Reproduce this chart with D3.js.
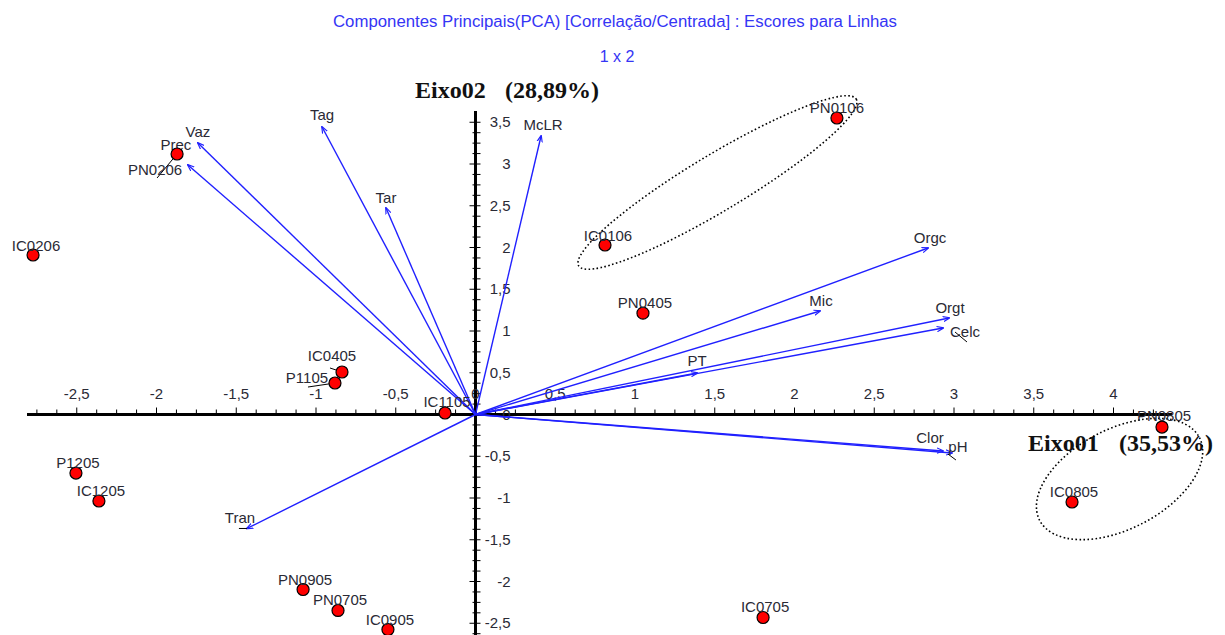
<!DOCTYPE html>
<html>
<head>
<meta charset="utf-8">
<script src="https://cdn.jsdelivr.net/npm/d3@7"></script>
<style>
  body { margin: 0; background: #fff; }
  text { font-family: Arial, "Liberation Sans", sans-serif; }
</style>
</head>
<body>
<div id="pca"></div>
<script>
// scores for rows (red points)
var pointNames = ["PN0106", "IC0106", "PN0405", "IC0206", "PN0206", "IC0405", "P1105", "IC1105",
    "P1205", "IC1205", "PN0905", "PN0705", "IC0905", "IC0705", "PN0805", "IC0805"];
var pointX = [2.266, 0.812, 1.050, -2.774, -1.871, -0.837, -0.881, -0.191,
    -2.505, -2.361, -1.081, -0.862, -0.549, 1.803, 4.304, 3.740];
var pointY = [3.551, 2.030, 1.214, 1.910, 3.120, 0.509, 0.377, 0.018,
    -0.701, -1.036, -2.096, -2.347, -2.575, -2.431, -0.150, -1.048];

// variables (blue vectors)
var varNames = ["Vaz", "Prec", "Tag", "Tar", "McLR", "Orgc", "Mic", "Orgt", "Celc", "PT", "Clor", "pH", "Tran"];
var varX = [-1.740, -1.803, -0.962, -0.561, 0.411, 2.837, 2.160, 2.969, 2.931, 1.389, 2.931, 2.987, -1.433];
var varY = [3.251, 2.988, 3.443, 2.473, 3.335, 1.994, 1.240, 1.156, 1.036, 0.497, -0.437, -0.461, -1.365];

// group ellipses: major axis end points (data units) and minor/major ratio
var groupX1 = [0.647, 3.537];
var groupY1 = [1.780, -1.268];
var groupX2 = [2.387, 4.539];
var groupY2 = [3.777, -0.277];
var groupRatio = [0.173, 0.555];

var xTickValues = d3.range(-22, 35).map(i => i / 8);
var yTickValues = d3.range(-21, 29).map(i => i / 8);

var titleText = "Componentes Principais(PCA) [Correlação/Centrada] : Escores para Linhas";
var subTitle = "1 x 2";
var axis1Name = "Eixo01", axis1Pct = "(35,53%)";
var axis2Name = "Eixo02", axis2Pct = "(28,89%)";

var width = 1225;
var height = 635;

// origin in pixels and units per pixel
var ox = 475.5, oy = 414.5;
var ux = 159.5, uy = 83.5;

var x = d3.scaleLinear().domain([0, 1]).range([ox, ox + ux]);
var y = d3.scaleLinear().domain([0, 1]).range([oy, oy - uy]);

var loc = d3.formatLocale({decimal: ",", thousands: ".", grouping: [3], currency: ["", ""], minus: "-"});
var fmt = loc.format("~g");

// label offsets (px) from point / arrow tip, default is centred above
var pointLabelOff = {
    "PN0106": [0, -5], "IC0106": [3, -4], "IC0206": [3, -4],
    "PN0206": [-22, 21], "IC0405": [-10, -11], "P1105": [-28, 0],
    "IC1105": [2, -6], "PN0805": [2, -6]
};
var leaders = {
    "PN0206": [-20, 24], "IC0405": [-12, -4], "P1105": [-27, 4]
};
var varLabelOff = {
    "Vaz": [0, -6], "Prec": [-12, -15], "Tag": [0, -7], "Tar": [0, -5], "McLR": [2, -6],
    "Orgc": [2, -5], "Mic": [1, -5], "Orgt": [1, -5], "Celc": [22, 9], "PT": [0, -7],
    "Clor": [-13, -8], "pH": [6, -1], "Tran": [-7, -5]
};

var svg = d3.select("#pca").append("svg")
    .attr("width", width)
    .attr("height", height);

// title
svg.append("text")
    .attr("x", 615).attr("y", 27)
    .attr("text-anchor", "middle")
    .attr("font-size", 16)
    .attr("textLength", 564)
    .attr("lengthAdjust", "spacingAndGlyphs")
    .attr("fill", "#3535f5")
    .text(titleText);
svg.append("text")
    .attr("x", 617).attr("y", 62)
    .attr("text-anchor", "middle")
    .attr("font-size", 16)
    .attr("fill", "#3535f5")
    .text(subTitle);

// axes
var axisG = svg.append("g");
axisG.append("line")
    .attr("x1", 27).attr("x2", 1172)
    .attr("y1", oy).attr("y2", oy)
    .attr("stroke", "#000").attr("stroke-width", 3);
axisG.append("line")
    .attr("x1", ox).attr("x2", ox)
    .attr("y1", 111).attr("y2", height)
    .attr("stroke", "#000").attr("stroke-width", 3);

var isMajor = v => Math.abs(v * 2 - Math.round(v * 2)) < 1e-6;

axisG.selectAll(".xt")
    .data(xTickValues.filter(v => v !== 0))
    .join("line")
    .attr("class", "xt")
    .attr("x1", d => x(d)).attr("x2", d => x(d))
    .attr("y1", oy).attr("y2", d => isMajor(d) ? oy - 7 : oy - 5)
    .attr("stroke", "#000").attr("stroke-width", 1);

axisG.selectAll(".yt")
    .data(yTickValues.filter(v => v !== 0))
    .join("line")
    .attr("class", "yt")
    .attr("x1", d => isMajor(d) ? ox - 6 : ox - 3).attr("x2", ox + 5)
    .attr("y1", d => y(d)).attr("y2", d => y(d))
    .attr("stroke", "#000").attr("stroke-width", 1);

axisG.selectAll(".xl")
    .data(xTickValues.filter(isMajor))
    .join("text")
    .attr("class", "xl")
    .attr("x", d => x(d)).attr("y", oy - 16)
    .attr("text-anchor", "middle")
    .attr("font-size", 15)
    .attr("fill", "#2a2a35")
    .text(d => fmt(d));

axisG.selectAll(".yl")
    .data(yTickValues.filter(isMajor))
    .join("text")
    .attr("class", "yl")
    .attr("x", ox + 35).attr("y", d => y(d) + 5)
    .attr("text-anchor", "end")
    .attr("font-size", 15)
    .attr("fill", "#2a2a35")
    .text(d => fmt(d));

// axis names
var ax2 = svg.append("g").attr("font-family", "'Liberation Serif', 'Times New Roman', serif")
    .attr("font-weight", "bold").attr("font-size", 24).attr("fill", "#111");
ax2.append("text").attr("x", 415).attr("y", 98).style("font-family", "inherit").text(axis2Name);
ax2.append("text").attr("x", 505).attr("y", 98).style("font-family", "inherit").text(axis2Pct);
ax2.append("text").attr("x", 1028).attr("y", 451).style("font-family", "inherit").text(axis1Name);
ax2.append("text").attr("x", 1119).attr("y", 451).style("font-family", "inherit").text(axis1Pct);

// arrow head
svg.append("defs").append("marker")
    .attr("id", "arr")
    .attr("viewBox", "0 -4 8 8")
    .attr("refX", 7).attr("refY", 0)
    .attr("markerWidth", 7).attr("markerHeight", 7)
    .attr("markerUnits", "userSpaceOnUse")
    .attr("orient", "auto")
    .append("path")
    .attr("d", "M0,-3L8,0L0,3")
    .attr("fill", "none")
    .attr("stroke", "#2020ff")
    .attr("stroke-width", 1.3);

// vectors
var vec = svg.append("g");
vec.selectAll("line")
    .data(varNames)
    .join("line")
    .attr("x1", x(0)).attr("y1", y(0))
    .attr("x2", (d, i) => x(varX[i]))
    .attr("y2", (d, i) => y(varY[i]))
    .attr("stroke", "#2020ff")
    .attr("stroke-width", 1.4)
    .attr("marker-end", "url(#arr)");

// ellipses
var ell = svg.append("g");
groupRatio.forEach(function (r, i) {
    var p1 = [x(groupX1[i]), y(groupY1[i])];
    var p2 = [x(groupX2[i]), y(groupY2[i])];
    var cx = (p1[0] + p2[0]) / 2, cy = (p1[1] + p2[1]) / 2;
    var a = Math.hypot(p2[0] - p1[0], p2[1] - p1[1]) / 2;
    var ang = Math.atan2(p2[1] - p1[1], p2[0] - p1[0]) * 180 / Math.PI;
    ell.append("ellipse")
        .attr("cx", 0).attr("cy", 0)
        .attr("rx", a).attr("ry", a * r)
        .attr("transform", `translate(${cx},${cy}) rotate(${ang})`)
        .attr("fill", "none")
        .attr("stroke", "#000")
        .attr("stroke-width", 1.6)
        .attr("stroke-dasharray", "1.6 2.4");
});

// variable labels
vec.selectAll("text")
    .data(varNames)
    .join("text")
    .attr("x", (d, i) => x(varX[i]) + varLabelOff[d][0])
    .attr("y", (d, i) => y(varY[i]) + varLabelOff[d][1])
    .attr("text-anchor", "middle")
    .attr("font-size", 15)
    .attr("fill", "#2a2a35")
    .text(d => d);

// small leader lines of the variable labels
vec.append("line").attr("x1", x(varX[8]) + 12).attr("y1", y(varY[8]) + 4)
    .attr("x2", x(varX[8]) + 24).attr("y2", y(varY[8]) + 14).attr("stroke", "#000");
vec.append("line").attr("x1", x(varX[11]) - 4).attr("y1", y(varY[11]) + 1)
    .attr("x2", x(varX[11]) + 4).attr("y2", y(varY[11]) + 7).attr("stroke", "#000");
vec.append("line").attr("x1", x(varX[12]) - 8).attr("y1", y(varY[12]))
    .attr("x2", x(varX[12])).attr("y2", y(varY[12])).attr("stroke", "#000");

// points
var pts = svg.append("g");
pts.selectAll("line")
    .data(pointNames.filter(d => leaders[d]))
    .join("line")
    .attr("x1", d => x(pointX[pointNames.indexOf(d)]))
    .attr("y1", d => y(pointY[pointNames.indexOf(d)]))
    .attr("x2", d => x(pointX[pointNames.indexOf(d)]) + leaders[d][0])
    .attr("y2", d => y(pointY[pointNames.indexOf(d)]) + leaders[d][1])
    .attr("stroke", "#000");

pts.selectAll("circle")
    .data(pointNames)
    .join("circle")
    .attr("cx", (d, i) => x(pointX[i]))
    .attr("cy", (d, i) => y(pointY[i]))
    .attr("r", 6)
    .attr("fill", "#ff0000")
    .attr("stroke", "#000")
    .attr("stroke-width", 1.2);

pts.selectAll("text")
    .data(pointNames)
    .join("text")
    .attr("x", (d, i) => x(pointX[i]) + (pointLabelOff[d] ? pointLabelOff[d][0] : 2))
    .attr("y", (d, i) => y(pointY[i]) + (pointLabelOff[d] ? pointLabelOff[d][1] : -5))
    .attr("text-anchor", "middle")
    .attr("font-size", 15)
    .attr("fill", "#2a2a35")
    .text(d => d);
</script>
</body>
</html>
